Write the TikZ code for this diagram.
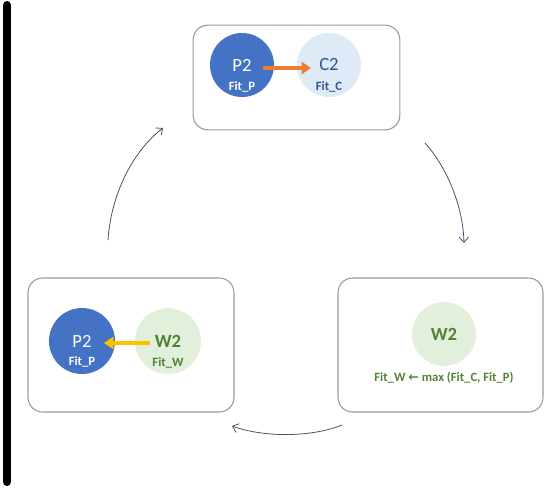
\documentclass[tikz,border=0pt]{standalone}
\usepackage{fontspec}
\setmainfont{Carlito}
\newfontfamily\dvfont{DejaVu Sans}
\usetikzlibrary{arrows.meta}
\definecolor{pblue}{HTML}{4472C4}
\definecolor{cblue}{HTML}{DEEBF7}
\definecolor{wgreen}{HTML}{E2EFDA}
\definecolor{tgreen}{HTML}{548235}
\definecolor{orng}{HTML}{ED7D31}
\definecolor{yell}{HTML}{FFC000}
\definecolor{conn}{HTML}{44546A}
\definecolor{ctext}{HTML}{2F5597}
\tikzset{
  panel/.style={draw=black!40, line width=0.8pt, rounded corners=11pt},
  circ/.style={circle, minimum size=48pt, inner sep=0pt},
  big/.style={font=\fontsize{14}{16}\selectfont},
  small/.style={font=\fontsize{9.5}{11}\selectfont\bfseries},
  cycle/.style={draw=conn, line width=0.6pt, -{Straight Barb[length=4pt,width=7pt]}},
  fat/.style={line width=3pt, -{Triangle[length=7pt,width=9pt]}}
}
\begin{document}
\begin{tikzpicture}[x=0.75pt,y=-0.75pt]
\useasboundingbox (0,0) rectangle (550,487);
% black bar
\draw[line width=6pt, line cap=round] (7,5) -- (7,482);
% panels
\node[panel, minimum width=155pt, minimum height=78.5pt] (top) at (296.5,77.5) {};
\node[panel, minimum width=154.5pt, minimum height=100.5pt] (lft) at (131,345) {};
\node[panel, minimum width=153.75pt, minimum height=100.5pt] (rgt) at (440.5,345) {};
% top circles
\node[circ, fill=pblue] (p2t) at (242,65) {};
\node[circ, fill=cblue] (c2t) at (329,65) {};
\node[big, text=white] (p2tl) at (242,65) {P2};
\node[small, text=white] (fptl) at (242,87) {Fit\_P};
\node[big, text=ctext] (c2tl) at (329,65) {C2};
\node[small, text=ctext] (fctl) at (329,87) {Fit\_C};
\coordinate (oa) at (263,68);
\coordinate (ob) at (311,68);
\draw[fat, draw=orng, fill=orng] (oa) -- (ob);
% left circles
\node[circ, fill=pblue, minimum size=49.5pt] (p2l) at (82,341) {};
\node[circ, fill=wgreen, minimum size=49.5pt] (w2l) at (168,341) {};
\node[big, text=white] (p2ll) at (82,341) {P2};
\node[small, text=white] (fpll) at (82,362) {Fit\_P};
\node[big, text=tgreen, font=\fontsize{14}{16}\selectfont\bfseries] (w2ll) at (168,341) {W2};
\node[small, text=tgreen] (fwll) at (168,363) {Fit\_W};
\coordinate (ya) at (150,343);
\coordinate (yb) at (104,343);
\draw[fat, draw=yell, fill=yell] (ya) -- (yb);
% right circle
\node[circ, fill=wgreen] (w2r) at (444,334) {};
\node[big, text=tgreen, font=\fontsize{14}{16}\selectfont\bfseries] (w2rl) at (444,334) {W2};
\node[small, text=tgreen] (form) at (444,378) {Fit\_W {\dvfont\bfseries\fontsize{9.5}{11}\selectfont ←} max (Fit\_C, Fit\_P)};
% cycle arrows
\coordinate (l1) at (108,240);
\coordinate (l2) at (163,128);
\draw[cycle] (l1) .. controls (111,195) and (132,152) .. (l2);
\coordinate (r1) at (425,143);
\coordinate (r2) at (464,243);
\draw[cycle] (r1) .. controls (446,166) and (463,205) .. (r2);
\coordinate (b1) at (342,425);
\coordinate (b2) at (232,426);
\draw[cycle] (b1) .. controls (310,438) and (262,437) .. (b2);
\end{tikzpicture}
\end{document}
